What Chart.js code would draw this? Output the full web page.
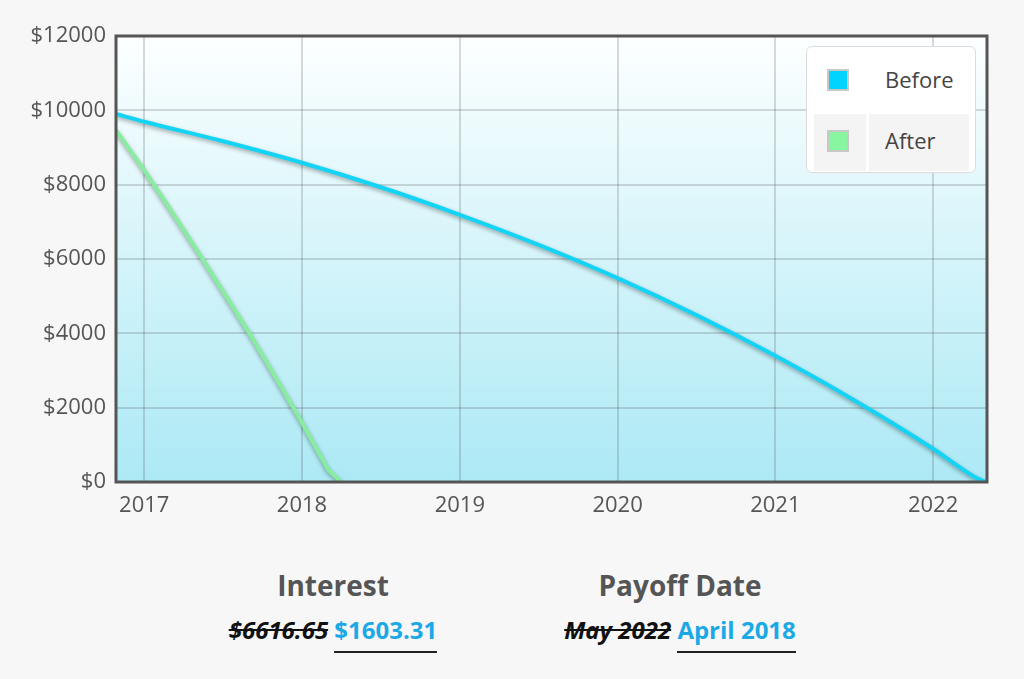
<!DOCTYPE html>
<html>
<head>
<meta charset="utf-8">
<script src="https://cdn.jsdelivr.net/npm/chart.js@4.4.0/dist/chart.umd.min.js"></script>
<style>
  html, body { margin: 0; padding: 0; background: #f7f7f7; width: 1024px; height: 679px; overflow: hidden; font-family: "Open Sans", sans-serif; }
  #wrap { position: absolute; left: 0; top: 0; width: 1024px; height: 530px; }
  #legend { position: absolute; left: 806px; top: 46px; width: 170px; height: 127px; box-sizing: border-box;
            background: #fff; border: 1px solid #dcdcdc; border-radius: 6px; padding: 3px 3px 3px 4px; }
  #legend table { border-collapse: separate; border-spacing: 3px 2px; width: 100%; }
  #legend tr:first-child { height: 60px; }
  #legend tr:nth-child(2) { height: 57px; }
  #legend td { background: #fff; padding: 0; }
  #legend tr:first-child td { padding-bottom: 6px; }
  #legend tr:nth-child(2) td { background: #f4f4f4; padding-bottom: 5px; }
  #legend td.sw { width: 52px; text-align: center; }
  #legend td.sw span { display: inline-block; width: 18px; height: 18px; border: 2px solid #c8c8c8; vertical-align: middle; margin-left: -4px; }
  #legend td.lb { font-size: 22px; color: #444; padding-left: 16px; }
  .stat { position: absolute; top: 563px; width: 360px; text-align: center; }
  .stat h3 { margin: 0; font-family: "Open Sans", sans-serif; font-weight: 700; font-size: 28px; color: #555; line-height: 44px; }
  .stat .vals { margin-top: 8px; font-family: "Open Sans", sans-serif; font-weight: 700; font-size: 24px; line-height: 30px; }
  .stat .old { font-style: italic; color: #111; text-decoration: line-through; text-decoration-thickness: 2px; }
  .stat .new { color: #1aa9e6; border-bottom: 2px solid #222; padding-bottom: 5px; }
</style>
</head>
<body>
<div id="wrap"><canvas id="c" width="1024" height="530"></canvas></div>
<div id="legend"></div>
<div class="stat" style="left:153px"><h3>Interest</h3><div class="vals"><span class="old">$6616.65</span> <span class="new">$1603.31</span></div></div>
<div class="stat" style="left:500px"><h3>Payoff Date</h3><div class="vals"><span class="old">May 2022</span> <span class="new">April 2018</span></div></div>
<script>
// Months relative to January 2017 (0 = Jan 2017)
const beforeMonths  = [-2.15, 0, 6, 12, 18, 24, 30, 36, 42, 48, 54, 60, 63, 64];
const beforeBalance = [9900, 9694, 9168, 8590, 7930, 7190, 6380, 5485, 4490, 3395, 2200, 895, 170, 0];
const afterMonths   = [-2.15, 0, 2, 4, 6, 8, 10, 12, 14, 15];
const afterBalance  = [9470, 8394, 7330, 6242, 5130, 4000, 2810, 1600, 323, 0];
const seriesLabels  = ["Before", "After"];
const seriesColors  = ["#14d4f6", "#88ee9f"];
const swatchColors  = ["#00d4ff", "#88f5a0"];
const yTicks = [0, 2000, 4000, 6000, 8000, 10000, 12000];
const startYear = 2017;

const toPts = (xs, ys) => xs.map((x, i) => ({ x: x, y: ys[i] }));

const bgPlugin = {
  id: 'bg',
  beforeDraw(chart) {
    const { ctx, chartArea: a } = chart;
    const g = ctx.createLinearGradient(0, a.top, 0, a.bottom);
    g.addColorStop(0, '#fdffff');
    g.addColorStop(1, '#acE9f5');
    ctx.save();
    ctx.fillStyle = g;
    ctx.fillRect(a.left, a.top, a.right - a.left, a.bottom - a.top);
    ctx.restore();
  },
  beforeDatasetDraw(chart) {
    const ctx = chart.ctx;
    ctx.save();
    ctx.shadowColor = 'rgba(0,0,0,0.35)';
    ctx.shadowBlur = 4;
    ctx.shadowOffsetY = 2;
  },
  afterDatasetDraw(chart) { chart.ctx.restore(); },
  afterDraw(chart) {
    const { ctx, chartArea: a } = chart;
    ctx.save();
    ctx.strokeStyle = '#555';
    ctx.lineWidth = 3;
    ctx.strokeRect(a.left, a.top, a.right - a.left, a.bottom - a.top);
    ctx.restore();
  }
};

const chart = new Chart(document.getElementById('c'), {
  type: 'line',
  data: {
    datasets: [
      { label: seriesLabels[0], data: toPts(beforeMonths, beforeBalance), borderColor: seriesColors[0], backgroundColor: swatchColors[0],
        borderWidth: 4, pointRadius: 0, fill: false, cubicInterpolationMode: 'monotone' },
      { label: seriesLabels[1], data: toPts(afterMonths, afterBalance), borderColor: seriesColors[1], backgroundColor: swatchColors[1],
        borderWidth: 4, pointRadius: 0, fill: false, tension: 0 }
    ]
  },
  options: {
    responsive: false,
    animation: false,
    layout: { padding: { top: 36, right: 37, left: 0, bottom: 0 } },
    plugins: { legend: { display: false }, tooltip: { enabled: false } },
    scales: {
      x: {
        type: 'linear', min: -2.15, max: 64.1,
        afterFit(s) { s.height = 48; },
        border: { display: false },
        grid: { color: 'rgba(70,70,70,0.2)', lineWidth: 2, drawTicks: false },
        ticks: { stepSize: 12, includeBounds: false, padding: 11, color: '#555',
                 font: { family: 'Open Sans', size: 22 },
                 callback: v => String(startYear + v / 12) }
      },
      y: {
        min: yTicks[0], max: yTicks[yTicks.length - 1],
        afterFit(s) { s.width = 116; },
        afterBuildTicks(s) { s.ticks = yTicks.map(v => ({ value: v })); },
        border: { display: false },
        grid: { color: 'rgba(70,70,70,0.2)', lineWidth: 2, drawTicks: false },
        ticks: { padding: 10, color: '#555', font: { family: 'Open Sans', size: 22 },
                 callback: v => '$' + v }
      }
    }
  },
  plugins: [bgPlugin]
});

// HTML legend built from datasets
const lg = document.getElementById('legend');
let html = '<table>';
chart.data.datasets.forEach(ds => {
  html += '<tr><td class="sw"><span style="background:' + ds.backgroundColor + '"></span></td><td class="lb">' + ds.label + '</td></tr>';
});
html += '</table>';
lg.innerHTML = html;
</script>
</body>
</html>
